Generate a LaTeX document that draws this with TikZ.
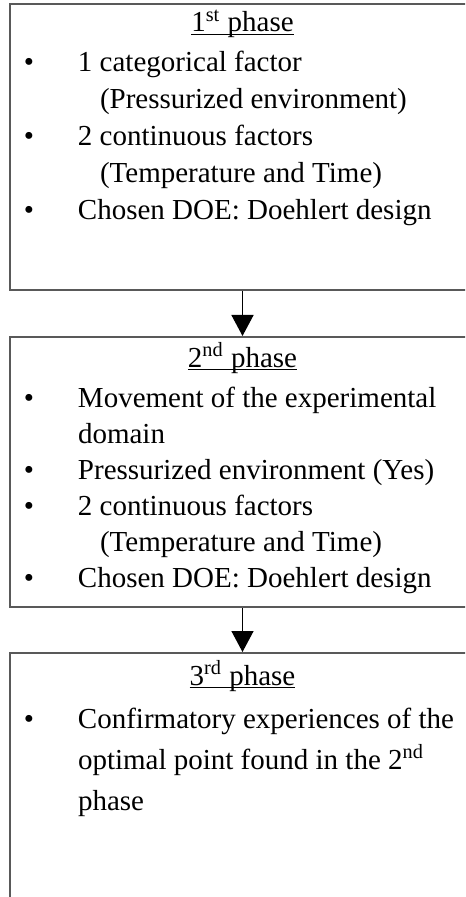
\documentclass[tikz,border=0pt]{standalone}
\usepackage{fontspec}
\setmainfont{Liberation Serif}
\usepackage{tikz}
\usetikzlibrary{arrows.meta,positioning}
\usepackage{xcolor}
\definecolor{phasegray}{RGB}{89,89,89}
\tikzstyle{phase} = [rectangle, draw=phasegray, line width=1pt, inner xsep=7pt, inner ysep=0pt, anchor=north west]
\tikzstyle{arrow} = [line width=0.75pt, -{Triangle[width=11pt,length=10.5pt]}, color=black]
\newcommand{\phaseul}[1]{\setbox0=\hbox{#1}\rlap{\rule[-1.7pt]{\wd0}{0.5pt}}\box0}
\newcommand{\phasehead}[2][16pt]{\makebox[\linewidth]{\rule{0pt}{#1}\phaseul{#2}}}
\newcommand{\phaseitem}[1]{\makebox[27pt][l]{\textbullet}#1}
\newcommand{\phasemore}[1]{\hspace*{38pt}#1}

\begin{document}
\begin{tikzpicture}
\useasboundingbox (0,0) rectangle (232.5pt,-448.5pt);
\clip (0,0) rectangle (232.5pt,-448.5pt);

% 1st phase
\node[phase] (phase1) at (4.5pt,-1.5pt) {\parbox[t][143pt][t]{218.5pt}{\fontsize{14.5}{18.5}\selectfont
\phasehead[14pt]{1\textsuperscript{st} phase}\\[1.5pt]
\phaseitem{1 categorical factor}\\
\phasemore{(Pressurized environment)}\\
\phaseitem{2 continuous factors}\\
\phasemore{(Temperature and Time)}\\
\phaseitem{Chosen DOE: Doehlert design}}};

% 2nd phase
\node[phase, below=22.5pt of phase1] (phase2) {\parbox[t][135pt][t]{218.5pt}{\fontsize{14.5}{18}\selectfont
\phasehead[15pt]{2\textsuperscript{nd} phase}\\[2pt]
\phaseitem{Movement of the experimental}\\
\hspace*{27pt}domain\\
\phaseitem{Pressurized environment (Yes)}\\
\phaseitem{2 continuous factors}\\
\phasemore{(Temperature and Time)}\\
\phaseitem{Chosen DOE: Doehlert design}}};

% 3rd phase
\node[phase, below=22pt of phase2] (phase3) {\parbox[t][135pt][t]{218.5pt}{\fontsize{14.5}{20.5}\selectfont
\phasehead{3\textsuperscript{rd} phase}\\[1pt]
\phaseitem{Confirmatory experiences of the}\\
\hspace*{27pt}optimal point found in the 2\textsuperscript{nd}\\
\hspace*{27pt}phase}};

% Arrows
\draw[arrow] (phase1) -- (phase2);
\draw[arrow] (phase2) -- (phase3);
\end{tikzpicture}
\end{document}
